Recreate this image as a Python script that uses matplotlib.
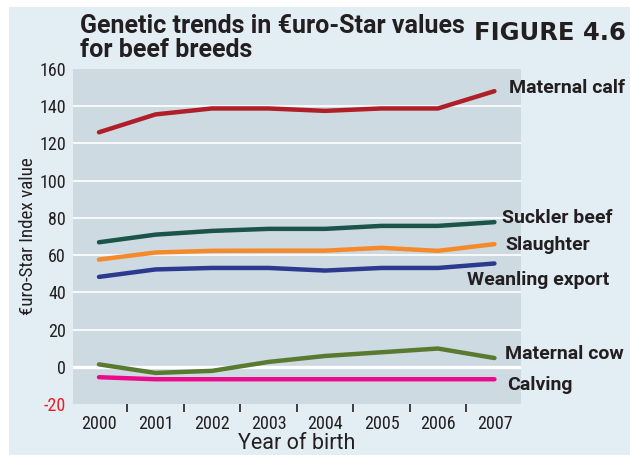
import numpy as np
import matplotlib
matplotlib.use('Agg')
import matplotlib.pyplot as plt
from matplotlib import font_manager
from matplotlib.patches import Rectangle

# data
years = [2000, 2001, 2002, 2003, 2004, 2005, 2006, 2007]
maternal_calf = [126, 135.6, 138.8, 138.8, 137.5, 138.8, 138.8, 148.1]
suckler_beef = [66.9, 71, 73, 74.1, 74.1, 75.7, 75.7, 77.7]
slaughter = [57.6, 61.4, 62.3, 62.4, 62.4, 63.9, 62.3, 65.9]
weanling_export = [48.3, 52.3, 53.1, 53.1, 51.7, 53.1, 53.1, 55.5]
maternal_cow = [1.3, -3.3, -2.2, 2.6, 5.8, 7.8, 9.8, 4.7]
calving = [-5.6, -6.7, -6.7, -6.7, -6.7, -6.7, -6.7, -6.7]
yticks = [-20, 0, 20, 40, 60, 80, 100, 120, 140, 160]


def pick_font():
    fl = font_manager.fontManager.ttflist
    for name, stretch in [('Roboto Condensed', 'normal'), ('Liberation Sans Narrow', 'normal'),
                          ('DejaVu Sans', 'condensed'), ('Roboto', 'normal')]:
        for f in fl:
            if f.name == name and (stretch == 'normal' or f.stretch == stretch):
                return name, stretch
    return 'DejaVu Sans', 'normal'


narrow, stretch = pick_font()
txt = dict(family=narrow, stretch=stretch)
wide = dict(family='Roboto')

series = [
    (maternal_calf, '#b01f27', 'Maternal calf', 2007.25, 149.7),
    (suckler_beef, '#1b5449', 'Suckler beef', 2007.13, 79.7),
    (slaughter, '#f58a2a', 'Slaughter', 2007.2, 65.7),
    (weanling_export, '#2b3a8f', 'Weanling export', 2006.52, 46.8),
    (maternal_cow, '#5b7a31', 'Maternal cow', 2007.18, 7),
    (calving, '#ec0a8c', 'Calving', 2007.23, -9.7),
]

ink = '#231f20'
fig = plt.figure(figsize=(6.3, 4.55), dpi=100, facecolor='white')
fig.patches.append(Rectangle((9/630, 0), 1, 1 - 7/455, transform=fig.transFigure,
                             facecolor='#e2edf4', edgecolor='none', zorder=-10))

ax = fig.add_axes([73/630, 51/455, 448/630, 335/455])
ax.set_facecolor('#cddae2')
for s in ax.spines.values():
    s.set_visible(False)

ax.set_xlim(1999.54, 2007.47)
ax.set_ylim(-20, 160)

for v in yticks[2:-1]:
    ax.axhline(v, color='white', lw=1.2, zorder=1)
ax.axhline(0, color='white', lw=2.4, zorder=1)

for vals, col, lab, lx, ly in series:
    ax.plot(years, vals, color=col, lw=3.2, solid_capstyle='round', zorder=3)
    ax.text(lx, ly, lab, color=ink, fontsize=14, fontweight='bold',
            va='center', ha='left', clip_on=False, **wide)

ax.set_xticks(years)
ax.set_xticklabels([str(y) for y in years], fontsize=13, color=ink, **txt)
ax.set_xticks(np.array(years[:-1]) + 0.5, minor=True)
ax.tick_params(axis='x', which='major', length=0, pad=8)
ax.tick_params(axis='x', which='minor', length=6, width=1.2, color=ink, direction='out')

ax.set_yticks(yticks)
ax.set_yticklabels([str(v) for v in yticks], fontsize=13, color=ink, **txt)
ax.tick_params(axis='y', length=0, pad=5)
ax.get_yticklabels()[0].set_color('#ed1c24')

ax.set_xlabel('Year of birth', fontsize=15.5, color=ink, labelpad=0, **wide)
ax.set_ylabel('€uro-Star Index value', fontsize=13.7, color=ink, labelpad=2, **txt)

fig.text(80/630, 1 - 33/455, 'Genetic trends in €uro-Star values',
         fontweight='bold', fontsize=18, color=ink, va='baseline', **wide)
fig.text(80/630, 1 - 57/455, 'for beef breeds',
         fontweight='bold', fontsize=18, color=ink, va='baseline', **wide)
fig.text(626/630, 1 - 40/455, 'FIGURE 4.6', family='DejaVu Sans',
         fontweight='bold', fontsize=17.5, color=ink, va='baseline', ha='right')

fig.savefig('out.png', dpi=100, facecolor=fig.get_facecolor())
